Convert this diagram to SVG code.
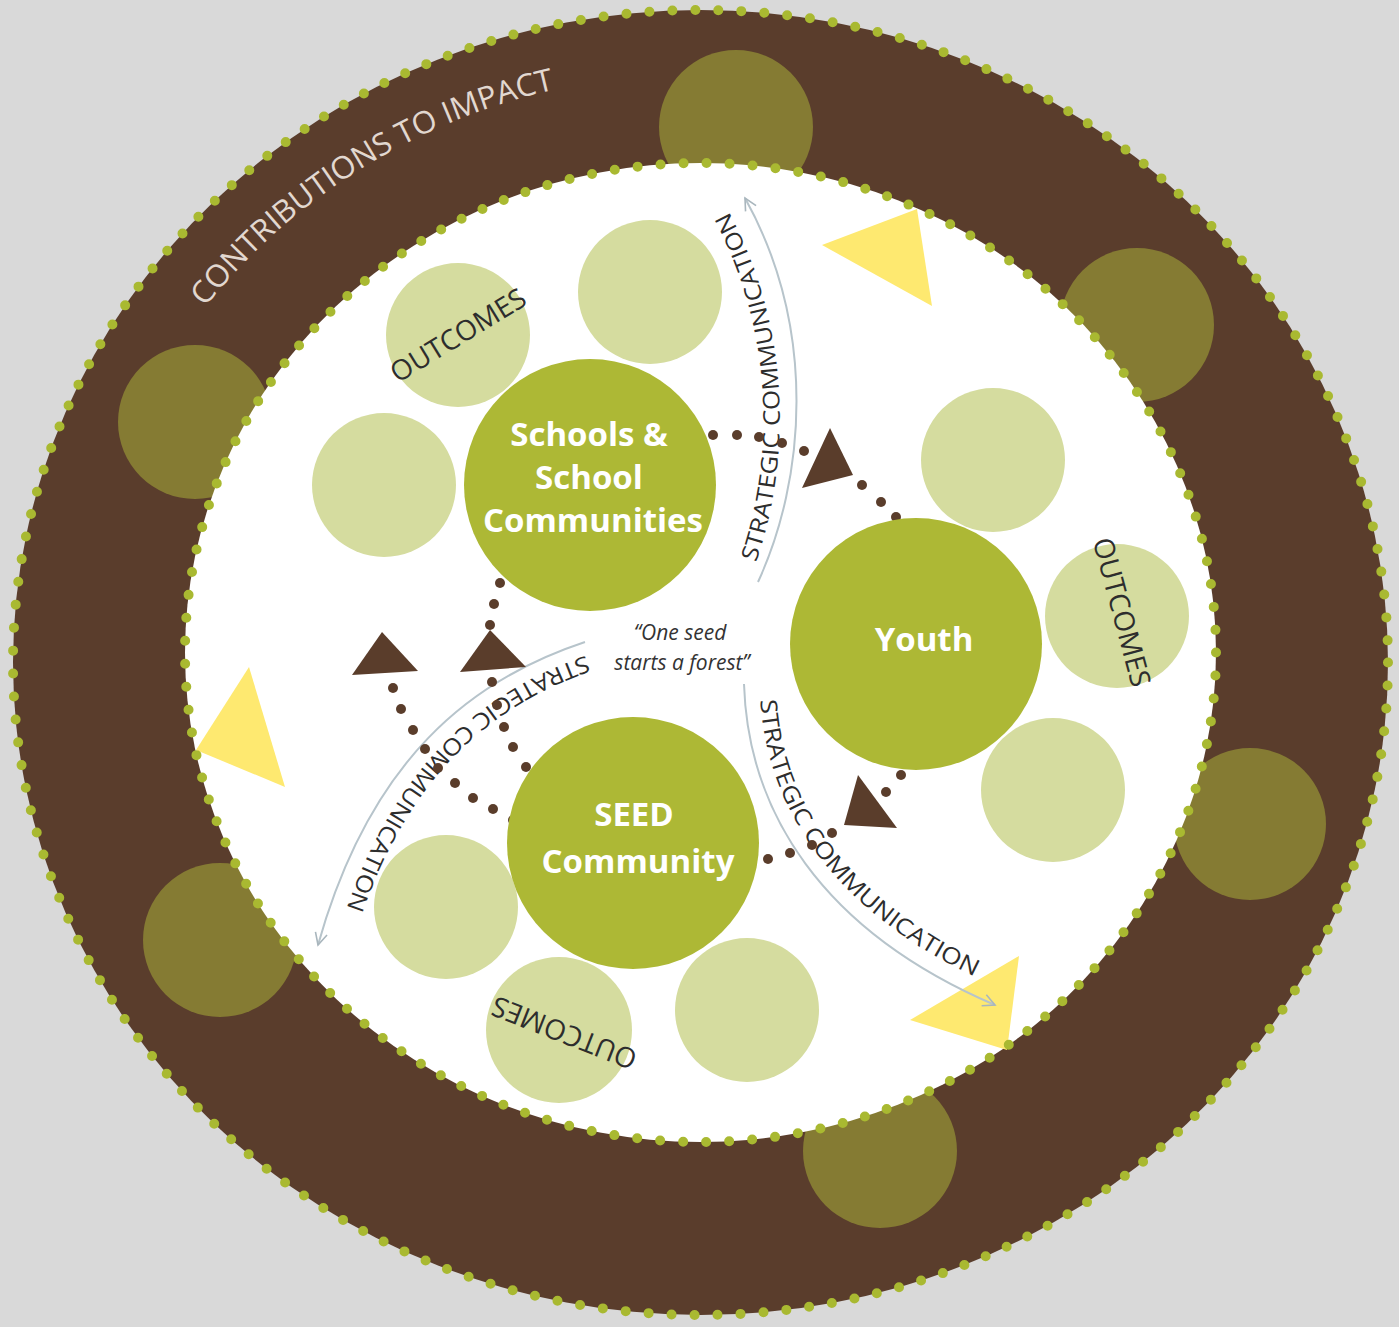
<svg xmlns="http://www.w3.org/2000/svg" width="1399" height="1327" viewBox="0 0 1399 1327">
<defs>
<style>
.olive{fill:#857b33}
.light{fill:#d5dc9f}
.main{fill:#adb835}
.yellow{fill:#fee970}
.tri{fill:#5a3d2b}
.dot{fill:#5a3d2b}
.ring{fill:none;stroke:#a9b931;stroke-width:10;stroke-linecap:round}
.comm{fill:none;stroke:#b7c4cb;stroke-width:2}
.commtxt{font-family:"Open Sans","Noto Sans","Liberation Sans",sans-serif;font-weight:400;font-size:23px;fill:#2d2d2d}
.outc{font-family:"Open Sans","Noto Sans","Liberation Sans",sans-serif;font-weight:400;font-size:28px;fill:#2d2d2d;text-anchor:middle}
.contrib{font-family:"Open Sans","Noto Sans","Liberation Sans",sans-serif;font-weight:400;font-size:31px;fill:#e2d8d0}
.node{font-family:"Open Sans","Noto Sans","Liberation Sans",sans-serif;font-weight:700;font-size:33px;fill:#ffffff;text-anchor:middle}
.quote{font-family:"Open Sans","Noto Sans","Liberation Sans",sans-serif;font-style:italic;font-size:21px;fill:#333333;text-anchor:middle}
</style>
<marker id="arr" markerUnits="userSpaceOnUse" markerWidth="16" markerHeight="16" viewBox="0 0 16 16" refX="14" refY="8" orient="auto">
<path d="M2,2 L14,8 L2,14" fill="none" stroke="#a9b6bd" stroke-width="1.6"/>
</marker>
<path id="tp-contrib" d="M 192.9,323.3 A 619 587 0 0 1 646.1,75.2"/>
<path id="tp-top" d="M 754,568 C 790,470 795,330 725,205"/>
<path id="tp-left" d="M 588,655 C 478,692 384,772 335,945"/>
<path id="tp-right" d="M 760,690 C 763,805 833,918 1000,988"/>
</defs>

<rect x="0" y="0" width="1399" height="1327" fill="#d9d9d9"/>

<g id="outer-ring">
<ellipse cx="700.5" cy="662.5" rx="687.5" ry="652.5" fill="#5a3d2c"/>
<ellipse class="ring" cx="700.5" cy="662.5" rx="687.5" ry="652.5" stroke-dasharray="0 23.01"/>
<circle class="olive" cx="736" cy="127" r="77"/>
<circle class="olive" cx="1137" cy="325" r="77"/>
<circle class="olive" cx="195" cy="422" r="77"/>
<circle class="olive" cx="1250" cy="824" r="76"/>
<circle class="olive" cx="220" cy="940" r="77"/>
<circle class="olive" cx="880" cy="1151" r="77"/>
<text class="contrib"><textPath href="#tp-contrib" startOffset="20" textLength="420" lengthAdjust="spacingAndGlyphs">CONTRIBUTIONS TO IMPACT</textPath></text>
</g>

<g id="inner-area">
<ellipse cx="700.5" cy="652.5" rx="515.5" ry="489.5" fill="#ffffff"/>
</g>

<g id="outcome-circles">
<circle class="light" cx="458" cy="335" r="72"/>
<circle class="light" cx="650" cy="292" r="72"/>
<circle class="light" cx="384" cy="485" r="72"/>
<circle class="light" cx="993" cy="460" r="72"/>
<circle class="light" cx="1117" cy="616" r="72"/>
<circle class="light" cx="1053" cy="790" r="72"/>
<circle class="light" cx="446" cy="907" r="72"/>
<circle class="light" cx="559" cy="1030" r="73"/>
<circle class="light" cx="747" cy="1010" r="72"/>
</g>

<g id="yellow-triangles">
<polygon class="yellow" points="822,245 917,209 932,306"/>
<polygon class="yellow" points="249,667 196,750 285,787"/>
<polygon class="yellow" points="910,1020 1019,956 1007,1050"/>
</g>

<g id="inner-ring">
<ellipse class="ring" cx="700.5" cy="652.5" rx="515.5" ry="489.5" stroke-dasharray="0 23.05"/>
</g>

<g id="connectors">
<path class="comm" d="M 758,582 C 805,480 818,330 745,198" marker-end="url(#arr)"/>
<path class="comm" d="M 585,642 C 470,680 370,760 318,945" marker-end="url(#arr)"/>
<path class="comm" d="M 744,684 C 748,810 820,930 995,1005" marker-end="url(#arr)"/>
<text class="commtxt"><textPath href="#tp-top" startOffset="6" textLength="362" lengthAdjust="spacingAndGlyphs">STRATEGIC COMMUNICATION</textPath></text>
<text class="commtxt"><textPath href="#tp-left" startOffset="2" textLength="362" lengthAdjust="spacingAndGlyphs">STRATEGIC COMMUNICATION</textPath></text>
<text class="commtxt"><textPath href="#tp-right" startOffset="10" textLength="368" lengthAdjust="spacingAndGlyphs">STRATEGIC COMMUNICATION</textPath></text>

<g id="dots-schools-youth">
<circle class="dot" cx="713" cy="435" r="5"/>
<circle class="dot" cx="737" cy="435" r="5"/>
<circle class="dot" cx="759" cy="437" r="5"/>
<circle class="dot" cx="782" cy="443" r="5"/>
<circle class="dot" cx="804" cy="451" r="5"/>
<circle class="dot" cx="862" cy="485" r="5"/>
<circle class="dot" cx="881" cy="502" r="5"/>
<circle class="dot" cx="896" cy="517" r="5"/>
<polygon class="tri" points="830,428 802,488 853,475"/>
</g>
<g id="dots-seed-schools">
<circle class="dot" cx="500" cy="583" r="5"/>
<circle class="dot" cx="494" cy="604" r="5"/>
<circle class="dot" cx="490" cy="625" r="5"/>
<circle class="dot" cx="492" cy="682" r="5"/>
<circle class="dot" cx="497" cy="705" r="5"/>
<circle class="dot" cx="504" cy="727" r="5"/>
<circle class="dot" cx="513" cy="747" r="5"/>
<circle class="dot" cx="526" cy="767" r="5"/>
<polygon class="tri" points="490,630 460,672 526,667"/>
</g>
<g id="dots-seed-left">
<circle class="dot" cx="393" cy="688" r="5"/>
<circle class="dot" cx="401" cy="709" r="5"/>
<circle class="dot" cx="413" cy="730" r="5"/>
<circle class="dot" cx="425" cy="749" r="5"/>
<circle class="dot" cx="438" cy="768" r="5"/>
<circle class="dot" cx="455" cy="783" r="5"/>
<circle class="dot" cx="473" cy="798" r="5"/>
<circle class="dot" cx="493" cy="809" r="5"/>
<circle class="dot" cx="513" cy="820" r="5"/>
<polygon class="tri" points="382,632 352,675 418,671"/>
</g>
<g id="dots-seed-youth">
<circle class="dot" cx="768" cy="859" r="5"/>
<circle class="dot" cx="790" cy="853" r="5"/>
<circle class="dot" cx="812" cy="845" r="5"/>
<circle class="dot" cx="832" cy="833" r="5"/>
<circle class="dot" cx="886" cy="792" r="5"/>
<circle class="dot" cx="901" cy="775" r="5"/>
<polygon class="tri" points="858,775 844,825 897,828"/>
</g>
</g>

<g id="node-schools">
<circle class="main" cx="590" cy="485" r="126"/>
<text class="node" x="589" y="446">Schools &amp;</text>
<text class="node" x="589" y="489">School</text>
<text class="node" x="593" y="532">Communities</text>
</g>

<g id="node-youth">
<circle class="main" cx="916" cy="644" r="126"/>
<text class="node" x="924" y="651">Youth</text>
</g>

<g id="node-seed">
<circle class="main" cx="633" cy="843" r="126"/>
<text class="node" x="634" y="826">SEED</text>
<text class="node" x="638" y="873" font-size="32">Community</text>
</g>

<g id="outcome-labels">
<text class="outc" transform="translate(458,335) rotate(-31.4)" y="10">OUTCOMES</text>
<text class="outc" transform="translate(1122,612) rotate(75)" y="10">OUTCOMES</text>
<text class="outc" transform="translate(564,1033) rotate(201.5)" y="10">OUTCOMES</text>
</g>

<g id="quote">
<text class="quote" x="680" y="640">“One seed</text>
<text class="quote" x="682" y="670">starts a forest”</text>
</g>
</svg>
